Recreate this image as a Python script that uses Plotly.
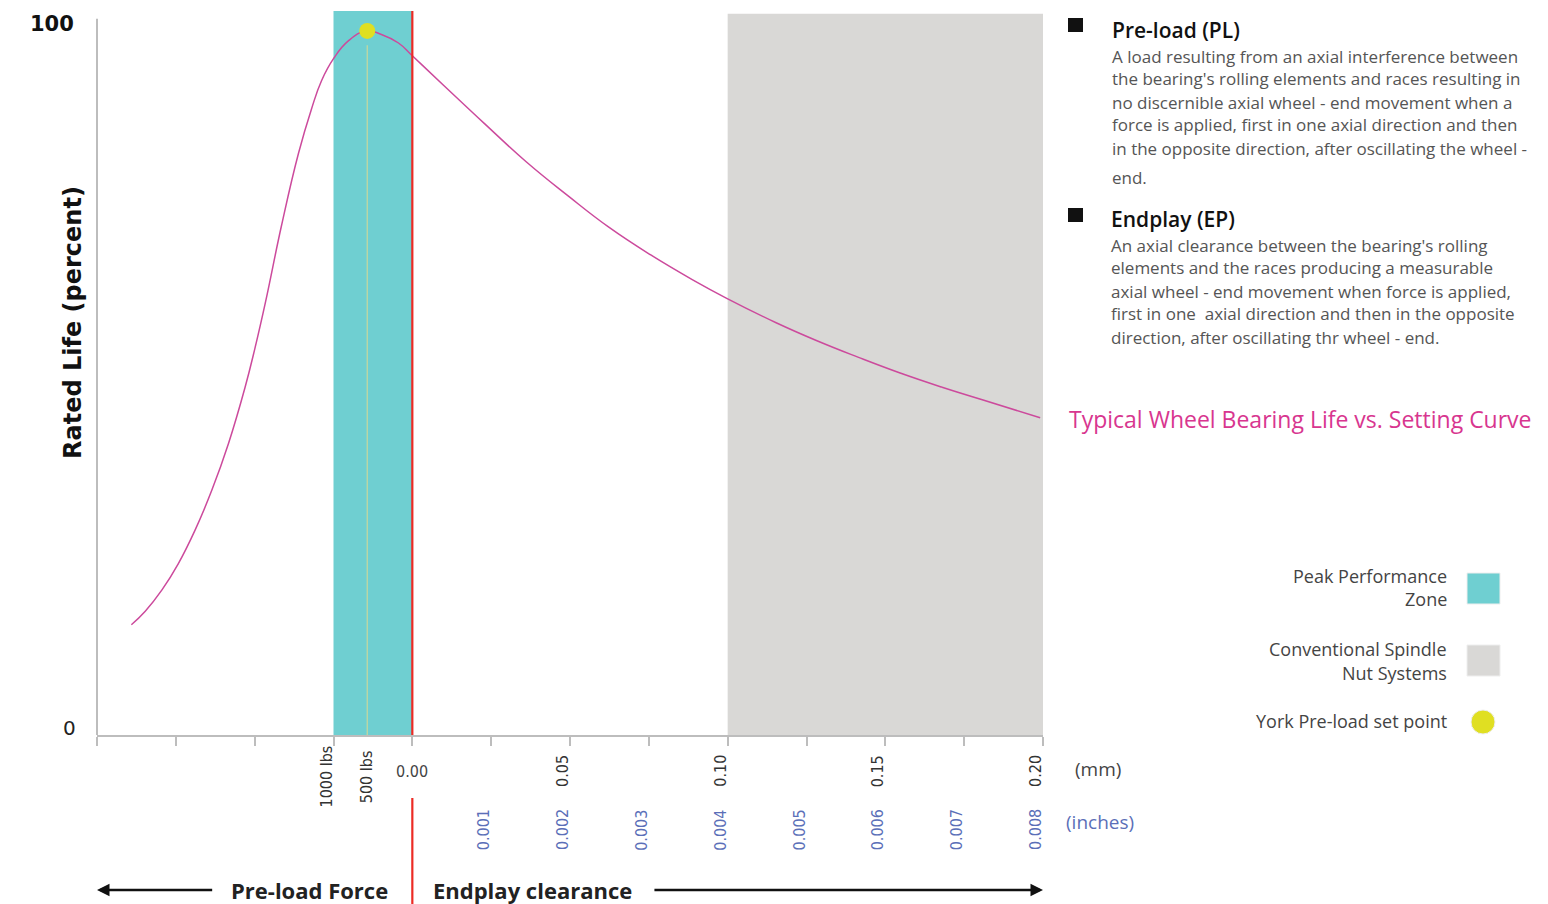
import plotly.graph_objects as go

# ---------------- data ----------------
# x in mm of endplay (negative side = pre-load region, same scale), y = rated life (%)
curve_mm = [-0.0891, -0.0847, -0.0794, -0.0742, -0.0689, -0.0636, -0.0583, -0.0531,
            -0.0499, -0.0465, -0.0415, -0.0361, -0.0320, -0.0288, -0.0250, -0.0203,
            -0.0146, -0.0098, -0.0044, 0.0, 0.0098, 0.0228, 0.0361, 0.0494, 0.0623,
            0.0756, 0.0889, 0.0997, 0.1152, 0.1285, 0.1415, 0.1547, 0.1680, 0.1810, 0.1991]
curve_life = [15.5, 17.4, 20.4, 24.1, 28.8, 34.4, 41.0, 48.8,
              54.4, 61.0, 71.6, 81.8, 88.0, 92.0, 95.1, 97.6,
              99.0, 98.5, 97.3, 95.5, 91.4, 86.0, 80.6, 75.8, 71.4,
              67.5, 64.0, 61.4, 58.0, 55.4, 53.1, 50.9, 48.9, 47.1, 44.6]

tick_mm = [-0.1, -0.075, -0.05, -0.025, 0.0, 0.025, 0.05, 0.075, 0.1, 0.125, 0.15, 0.175, 0.2]
mm_label_pos = [0.05, 0.10, 0.15, 0.20]
mm_labels = ["0.05", "0.10", "0.15", "0.20"]
inch_label_pos = [0.025, 0.05, 0.075, 0.1, 0.125, 0.15, 0.175, 0.2]
inch_labels = ["0.001", "0.002", "0.003", "0.004", "0.005", "0.006", "0.007", "0.008"]
force_label_pos = [-0.025, -0.0143]
force_labels = ["1000 lbs", "500 lbs"]

peak_zone = [-0.025, 0.0]
conventional_zone = [0.10, 0.20]
setpoint_mm = -0.0143
setpoint_life = 99.0

X_RANGE = [-0.1, 0.2]
Y_RANGE = [0, 101.8]

# ---------------- layout helpers ----------------
FIG_W, FIG_H = 1548, 904
L, R, T, B = 97, 1043, 11, 735
W, H = R - L, B - T


def fx(p):
    return (p - L) / W


def fy(p):
    return (B - p) / H


CYAN = "#6fcfd1"
GRAY = "#d9d8d6"
YELLOW = "#e0df22"
PINK = "#cc4a9c"
RED = "#ec2b25"
AXIS = "#bdbdbd"
TXT = "#555555"
BLUE = "#5b6fb8"
COND = "Liberation Sans Narrow, DejaVu Sans Condensed, Noto Sans, sans-serif"
BODY = "Open Sans, Noto Sans, sans-serif"

fig = go.Figure()

fig.add_trace(go.Scatter(
    x=curve_mm, y=curve_life, mode="lines",
    line=dict(color=PINK, width=1.5, shape="spline", smoothing=1.3),
    hoverinfo="skip", showlegend=False))

fig.add_trace(go.Scatter(
    x=[setpoint_mm], y=[setpoint_life], mode="markers",
    marker=dict(color=YELLOW, size=16, line=dict(width=0)),
    hoverinfo="skip", showlegend=False))

shapes = []
# zones
shapes.append(dict(type="rect", xref="x", yref="y", x0=peak_zone[0], x1=peak_zone[1],
                   y0=0, y1=Y_RANGE[1], fillcolor=CYAN, line=dict(width=0), layer="below"))
shapes.append(dict(type="rect", xref="x", yref="y", x0=conventional_zone[0], x1=conventional_zone[1],
                   y0=0, y1=101.4, fillcolor=GRAY, line=dict(width=0), layer="below"))
# y axis line (stops a little below the top)
shapes.append(dict(type="line", xref="paper", yref="y", x0=0, x1=0, y0=0, y1=100.7,
                   line=dict(color=AXIS, width=2)))
# set point drop line
shapes.append(dict(type="line", xref="x", yref="y", x0=setpoint_mm, x1=setpoint_mm,
                   y0=0, y1=setpoint_life - 2, line=dict(color="#c9d89c", width=1.2), layer="below"))
# red zero line
shapes.append(dict(type="line", xref="x", yref="y", x0=0, x1=0, y0=0, y1=Y_RANGE[1],
                   line=dict(color=RED, width=2.2)))
shapes.append(dict(type="line", xref="x", yref="paper", x0=0, x1=0, y0=fy(798), y1=fy(904),
                   line=dict(color=RED, width=2.2)))
# bullets
for top in (18, 208):
    shapes.append(dict(type="rect", xref="paper", yref="paper", x0=fx(1068), x1=fx(1083),
                       y0=fy(top + 14), y1=fy(top), fillcolor="#111111", line=dict(width=0)))
# legend swatches
shapes.append(dict(type="rect", xref="paper", yref="paper", x0=fx(1467), x1=fx(1500),
                   y0=fy(604), y1=fy(573), fillcolor=CYAN, line=dict(color="#eeeeee", width=1)))
shapes.append(dict(type="rect", xref="paper", yref="paper", x0=fx(1467), x1=fx(1500),
                   y0=fy(676), y1=fy(645), fillcolor=GRAY, line=dict(color="#eeeeee", width=1)))
shapes.append(dict(type="circle", xref="paper", yref="paper", x0=fx(1471), x1=fx(1495),
                   y0=fy(734), y1=fy(710), fillcolor=YELLOW, line=dict(color="#eeeeee", width=1)))

ann = []


def txt(x, y, text, size, color, family=BODY, xanchor="center", angle=0, xref="paper",
        yref="paper", weight="normal", xshift=0, yshift=0):
    ann.append(dict(x=x, y=y, xref=xref, yref=yref, text=text, showarrow=False,
                    xanchor=xanchor, yanchor="middle", textangle=angle, xshift=xshift,
                    yshift=yshift,
                    font=dict(family=family, size=size, color=color, weight=weight)))


# y tick labels
txt(fx(76), 100, "<b>100</b>", 21, "#111", family="DejaVu Sans", xanchor="right", yref="y")
txt(fx(78), 0, "0", 20, "#222", family="DejaVu Sans", xanchor="right", yref="y", yshift=7)
# y title
txt(fx(73), fy(323), "<b>Rated Life (percent)</b>", 24, "#111", family="DejaVu Sans", angle=-90)
# x labels
for xv, t in zip(force_label_pos, force_labels):
    txt(xv, fy(777), t, 16, "#333", family=COND, angle=-90, xref="x",
        xshift=-8 if t.startswith("1000") else -1)
txt(0, fy(771), "0.00", 16, "#444", family=COND, xref="x")
for xv, t in zip(mm_label_pos, mm_labels):
    txt(xv, fy(771), t, 16, "#333", family=COND, angle=-90, xref="x", xshift=-8)
for xv, t in zip(inch_label_pos, inch_labels):
    txt(xv, fy(830), t, 16, BLUE, family=COND, angle=-90, xref="x", xshift=-8)
txt(fx(1073), fy(769), "(mm)", 19, "#444", xanchor="left")
txt(fx(1064), fy(822), "(inches)", 19, BLUE, xanchor="left")
# bottom direction labels and arrows
txt(fx(309), fy(890), "<b>Pre-load Force</b>", 22, "#222")
txt(fx(532), fy(890), "<b>Endplay clearance</b>", 22, "#222")
ann.append(dict(x=X_RANGE[0], y=fy(890), xref="x", yref="paper", ax=-0.063, ay=0, axref="x",
                ayref="pixel", text="", showarrow=True, arrowhead=2, arrowsize=1, arrowwidth=2.5,
                arrowcolor="#111"))
ann.append(dict(x=X_RANGE[1], y=fy(890), xref="x", yref="paper", ax=0.0763, ay=0, axref="x",
                ayref="pixel", text="", showarrow=True, arrowhead=2, arrowsize=1, arrowwidth=2.5,
                arrowcolor="#111"))

# right panel text
txt(fx(1110), fy(30), "Pre-load (PL)", 21, "#111", xanchor="left", weight=600)
pl_lines = ["A load resulting from an axial interference between",
            "the bearing's rolling elements and races resulting in",
            "no discernible axial wheel - end movement when a",
            "force is applied, first in one axial direction and then",
            "in the opposite direction, after oscillating the wheel -",
            "end."]
pl_y = [56, 79, 102, 125, 148, 177]
for t, yp in zip(pl_lines, pl_y):
    txt(fx(1110), fy(yp), t, 17, TXT, xanchor="left")
txt(fx(1109), fy(219), "Endplay (EP)", 21, "#111", xanchor="left", weight=600)
ep_lines = ["An axial clearance between the bearing's rolling",
            "elements and the races producing a measurable",
            "axial wheel - end movement when force is applied,",
            "first in one  axial direction and then in the opposite",
            "direction, after oscillating thr wheel - end."]
ep_y = [245, 268, 291, 314, 337]
for t, yp in zip(ep_lines, ep_y):
    txt(fx(1109), fy(yp), t, 17, TXT, xanchor="left")
txt(fx(1067), fy(419), "Typical Wheel Bearing Life vs. Setting Curve", 23, "#d8368f", xanchor="left")
# legend labels
leg = [("Peak Performance", 576), ("Zone", 599), ("Conventional Spindle", 649),
       ("Nut Systems", 673), ("York Pre-load set point", 721)]
for t, yp in leg:
    txt(fx(1449), fy(yp), t, 18, "#444", xanchor="right")

fig.update_layout(
    width=FIG_W, height=FIG_H,
    margin=dict(l=L, r=FIG_W - R, t=T, b=FIG_H - B, pad=0),
    paper_bgcolor="white", plot_bgcolor="white",
    showlegend=False,
    shapes=shapes, annotations=ann,
    xaxis=dict(range=X_RANGE, showgrid=False, zeroline=False, showline=True, linecolor=AXIS,
               linewidth=2, ticks="outside", ticklen=9, tickwidth=1.5, tickcolor=AXIS,
               tickvals=tick_mm, showticklabels=False, fixedrange=True),
    yaxis=dict(range=Y_RANGE, showgrid=False, zeroline=False, showline=False,
               ticks="", showticklabels=False, fixedrange=True),
)

fig.write_html("out.html", config={"displayModeBar": False},
               post_script="document.body.style.margin='0';document.body.style.overflow='hidden';")
